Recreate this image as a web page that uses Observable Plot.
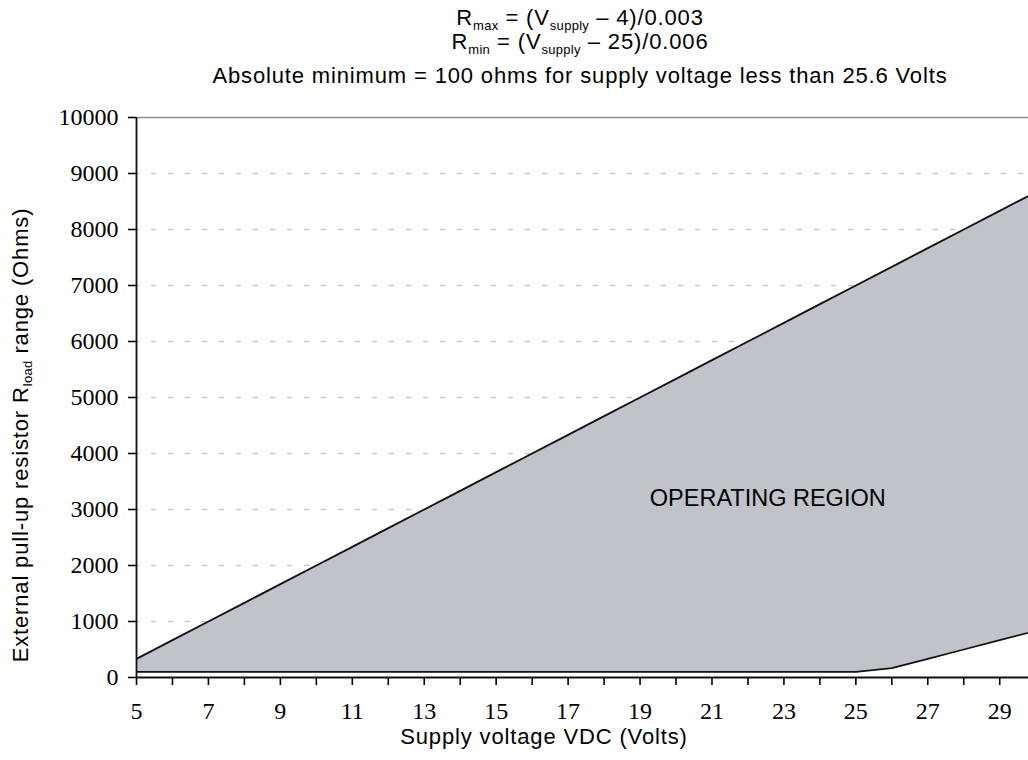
<!DOCTYPE html>
<html>
<head>
<meta charset="utf-8">
<script src="https://cdn.jsdelivr.net/npm/d3@7"></script>
<script src="https://cdn.jsdelivr.net/npm/@observablehq/plot@0.6"></script>
<style>
  html, body { margin: 0; padding: 0; background: #fff; }
  #wrap { position: relative; width: 1028px; height: 760px; overflow: hidden; }
  #title { position: absolute; left: 132px; top: 0; width: 896px; height: 90px; }
  .tl { position: absolute; left: 0; width: 100%; text-align: center; font-family: "Liberation Sans", Arial, sans-serif; font-size: 22px; line-height: 22px; letter-spacing: 0.85px; color: #000; white-space: nowrap; }
  .sub { font-size: 13px; position: relative; top: 5px; letter-spacing: 0.3px; line-height: 0; }
  #chart { position: absolute; left: 0; top: 90px; }
  #chart [aria-label^="x-axis"] line, #chart [aria-label^="x-axis"] path,
  #chart [aria-label^="y-axis"] line, #chart [aria-label^="y-axis"] path { stroke-width: 1.6px; }
</style>
</head>
<body>
<div id="wrap">
  <div id="title">
    <div class="tl" style="top:7px">R<span class="sub">max</span> = (V<span class="sub">supply</span> – 4)/0.003</div>
    <div class="tl" style="top:31px">R<span class="sub">min</span> = (V<span class="sub">supply</span> – 25)/0.006</div>
    <div class="tl" style="top:65px">Absolute minimum = 100 ohms for supply voltage less than 25.6 Volts</div>
  </div>
  <div id="chart"></div>
</div>
<script>
// Data
const volts = [5, 6, 7, 8, 9, 10, 11, 12, 13, 14, 15, 16, 17, 18, 19, 20, 21, 22, 23, 24, 25, 26, 27, 28, 29, 30];
const rMax  = [333, 667, 1000, 1333, 1667, 2000, 2333, 2667, 3000, 3333, 3667, 4000, 4333, 4667, 5000, 5333, 5667, 6000, 6333, 6667, 7000, 7333, 7667, 8000, 8333, 8667];
const rMin  = [100, 100, 100, 100, 100, 100, 100, 100, 100, 100, 100, 100, 100, 100, 100, 100, 100, 100, 100, 100, 100, 167, 333, 500, 667, 833];
const xTicks = [5, 6, 7, 8, 9, 10, 11, 12, 13, 14, 15, 16, 17, 18, 19, 20, 21, 22, 23, 24, 25, 26, 27, 28, 29];
const yTicks = [0, 1000, 2000, 3000, 4000, 5000, 6000, 7000, 8000, 9000, 10000];
const gridValues = [1000, 2000, 3000, 4000, 5000, 6000, 7000, 8000, 9000];
const regionLabel = ["OPERATING REGION"];
const regionLabelAt = {x: 22.55, y: 3200};
const xTitle = "Supply voltage VDC (Volts)";

const table = volts.map((v, i) => ({v, rmax: rMax[i], rmin: rMin[i]}));

const svg = Plot.plot({
  width: 1028,
  height: 670,
  marginTop: 27,
  marginBottom: 83,
  marginLeft: 136,
  marginRight: 0,
  style: {fontFamily: "'Liberation Serif', 'Times New Roman', serif", fontSize: "24px", color: "#000", background: "#fff", overflow: "hidden"},
  x: {domain: [5, 29.8], ticks: xTicks, tickFormat: d => (d % 2 === 1 ? String(d) : ""), tickSize: 8, tickPadding: 16, label: null},
  y: {domain: [0, 10000], ticks: yTicks, tickFormat: d => String(d), tickSize: 8, tickPadding: 10, label: null},
  marks: [
    Plot.ruleY(gridValues, {stroke: "#c4c4c4", strokeWidth: 1.5, strokeDasharray: "5,12", strokeDashoffset: 2}),
    Plot.areaY(table, {x: "v", y1: "rmin", y2: "rmax", fill: "#c0c3ca", clip: true}),
    Plot.line(table, {x: "v", y: "rmax", stroke: "#111", strokeWidth: 1.8, clip: true}),
    Plot.line(table, {x: "v", y: "rmin", stroke: "#111", strokeWidth: 1.8, clip: true}),
    Plot.ruleY([10000], {stroke: "#8a9494", strokeWidth: 1.6}),
    Plot.ruleY([0], {stroke: "#111", strokeWidth: 1.8}),
    Plot.ruleX([5], {stroke: "#111", strokeWidth: 1.8}),
    Plot.text(regionLabel, {x: () => regionLabelAt.x, y: () => regionLabelAt.y, text: d => d, fontFamily: "'Liberation Sans', Arial, sans-serif", fontSize: 23.5, fill: "#000", textAnchor: "middle"})
  ]
});

const s = d3.select(svg);
// y-axis title with subscript
const yt = s.append("text")
  .attr("transform", "translate(28,345) rotate(-90)")
  .attr("text-anchor", "middle")
  .attr("fill", "#000")
  .style("font-family", "'Liberation Sans', Arial, sans-serif")
  .style("font-size", "22px")
  .style("letter-spacing", "0.85px");
yt.append("tspan").text("External pull-up resistor R");
yt.append("tspan").attr("dy", 4).style("font-size", "13px").style("letter-spacing", "0.3px").text("load");
yt.append("tspan").attr("dy", -4).text(" range (Ohms)");

// x-axis title
s.append("text")
  .attr("x", 544)
  .attr("y", 654)
  .attr("text-anchor", "middle")
  .attr("fill", "#000")
  .style("font-family", "'Liberation Sans', Arial, sans-serif")
  .style("font-size", "22px")
  .style("letter-spacing", "0.85px")
  .text(xTitle);

document.getElementById("chart").appendChild(svg);
</script>
</body>
</html>
